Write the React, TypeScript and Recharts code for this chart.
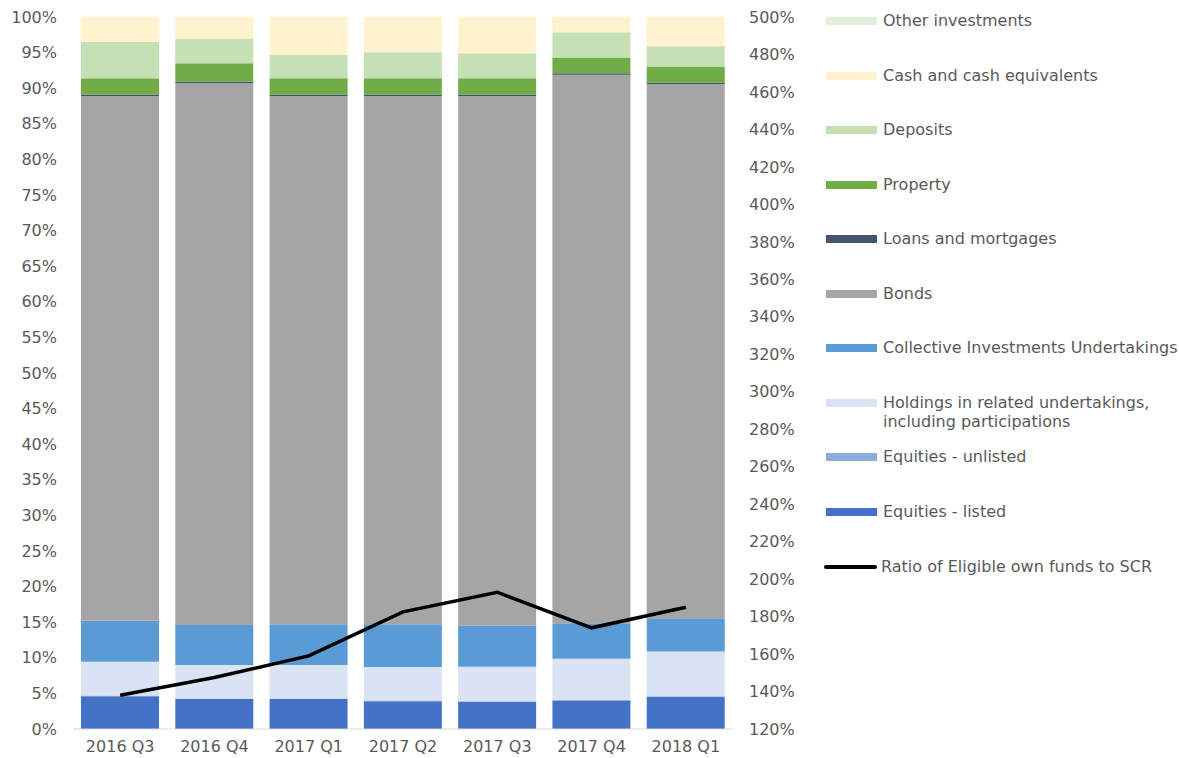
import React from 'react';
import { ComposedChart, Bar, Line, XAxis, YAxis } from 'recharts';

const quarters = ['2016 Q3', '2016 Q4', '2017 Q1', '2017 Q2', '2017 Q3', '2017 Q4', '2018 Q1'];

const equitiesListed = [4.6, 4.2, 4.2, 3.9, 3.8, 4.0, 4.5];
const equitiesUnlisted = [0.1, 0.1, 0.1, 0.1, 0.1, 0.1, 0.1];
const holdings = [4.75, 4.7, 4.7, 4.7, 4.85, 5.75, 6.3];
const ciu = [5.75, 5.6, 5.7, 6.0, 5.8, 5.0, 4.65];
const bonds = [73.7, 76.1, 74.2, 74.2, 74.35, 77.05, 75.05];
const loans = [0.2, 0.2, 0.2, 0.2, 0.2, 0.2, 0.2];
const property = [2.3, 2.6, 2.3, 2.3, 2.3, 2.2, 2.25];
const deposits = [5.1, 3.4, 3.25, 3.65, 3.5, 3.55, 2.85];
const cash = [3.5, 3.1, 5.35, 4.95, 5.1, 2.15, 4.1];
const otherInvestments = [0, 0, 0, 0, 0, 0, 0];
const scrRatio = [138, 147.5, 159, 182.5, 193, 174, 185];

const leftTicks = Array.from({ length: 21 }, (_, i) => i * 5);
const rightTicks = Array.from({ length: 20 }, (_, i) => 120 + i * 20);

const series = [
  { key: 'other', name: 'Other investments', color: '#e2efda', values: otherInvestments },
  { key: 'cash', name: 'Cash and cash equivalents', color: '#fff2cc', values: cash },
  { key: 'deposits', name: 'Deposits', color: '#c5e0b4', values: deposits },
  { key: 'property', name: 'Property', color: '#70ad47', values: property },
  { key: 'loans', name: 'Loans and mortgages', color: '#44546a', values: loans },
  { key: 'bonds', name: 'Bonds', color: '#a5a5a5', values: bonds },
  { key: 'ciu', name: 'Collective Investments Undertakings', color: '#5b9bd5', values: ciu },
  { key: 'holdings', name: 'Holdings in related undertakings,\nincluding participations', color: '#dae3f3', values: holdings },
  { key: 'unlisted', name: 'Equities - unlisted', color: '#8faadc', values: equitiesUnlisted },
  { key: 'listed', name: 'Equities - listed', color: '#4472c4', values: equitiesListed },
];

const data = quarters.map((q, i) => {
  const row: any = { quarter: q, ratio: scrRatio[i] };
  series.forEach((s) => {
    row[s.key] = s.values[i];
  });
  return row;
});

const font = 'Verdana, "DejaVu Sans", sans-serif';
const tickStyle = { fill: '#595959', fontSize: 16, fontFamily: font };

function LegendBox() {
  return (
    <div style={{ position: 'absolute', left: 826, top: 0, fontFamily: font, fontSize: 16, color: '#595959' }}>
      {series.map((s, i) => (
        <div key={s.key} style={{ position: 'absolute', top: 21 + i * 54.5 - 10, left: 0, display: 'flex' }}>
          <div style={{ width: 51, height: 8, background: s.color, marginTop: 6, marginRight: 6, flexShrink: 0 }} />
          <div style={{ whiteSpace: 'pre', lineHeight: '19px' }}>{s.name}</div>
        </div>
      ))}
      <div style={{ position: 'absolute', top: 567 - 10, left: 0, display: 'flex', whiteSpace: 'nowrap' }}>
        <div style={{ width: 53, height: 4, background: '#000', marginTop: 8, marginRight: 4, marginLeft: -2, borderRadius: 2, flexShrink: 0 }} />
        <div style={{ lineHeight: '19px' }}>Ratio of Eligible own funds to SCR</div>
      </div>
    </div>
  );
}

export default function App() {
  const stackOrder = [...series].reverse();
  return (
    <div style={{ position: 'absolute', left: 0, top: 0, width: 1179, height: 758, background: '#fff' }}>
      <ComposedChart
        width={1179}
        height={758}
        data={data}
        margin={{ top: 17, right: 386, bottom: 0, left: 0 }}
        barSize={78}
      >
        <XAxis
          dataKey="quarter"
          height={29}
          tickLine={false}
          axisLine={{ stroke: '#d9d9d9' }}
          tick={tickStyle}
          tickMargin={6}
        />
        <YAxis
          yAxisId="left"
          width={73}
          domain={[0, 100]}
          ticks={leftTicks}
          interval={0}
          tickFormatter={(v) => `${v}%`}
          axisLine={false}
          tickLine={false}
          tickMargin={10}
          tick={tickStyle}
        />
        <YAxis
          yAxisId="right"
          orientation="right"
          width={60}
          domain={[120, 500]}
          ticks={rightTicks}
          interval={0}
          tickFormatter={(v) => `${v}%`}
          axisLine={false}
          tickLine={false}
          tickMargin={10}
          tick={tickStyle}
        />
        {stackOrder.map((s) => (
          <Bar
            key={s.key}
            yAxisId="left"
            dataKey={s.key}
            name={s.name}
            stackId="a"
            fill={s.color}
            isAnimationActive={false}
          />
        ))}
        <Line
          yAxisId="right"
          dataKey="ratio"
          name="Ratio of Eligible own funds to SCR"
          stroke="#000"
          strokeWidth={3.5}
          dot={false}
          type="linear"
          isAnimationActive={false}
        />
      </ComposedChart>
      <LegendBox />
    </div>
  );
}
